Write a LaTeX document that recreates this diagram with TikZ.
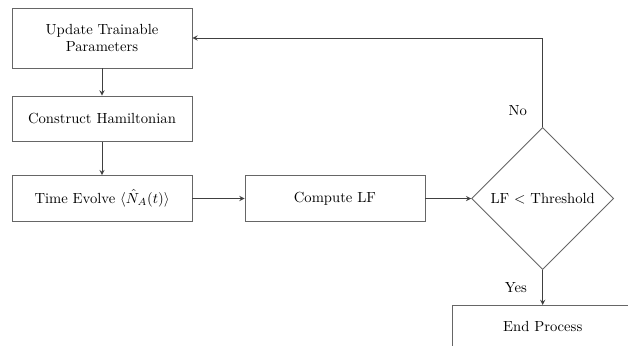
\documentclass[tikz,border=0pt]{standalone}
\usepackage{amsmath}
\usepackage{amssymb}
\usetikzlibrary{arrows,%
                positioning,%
                shapes.geometric}

\begin{document}
\begin{tikzpicture}
  \tikzstyle{every node} = [node distance = 0.7cm,
			    inner sep = 2]
\tikzset{StepBox/.style={draw = black!60, line width = 0.6pt, rectangle, align = center,
                         minimum width = 4.32cm, minimum height = 1.1cm}}
\tikzset{TestBox/.style={draw = black!60, line width = 0.6pt, diamond, inner sep = 0,
                         minimum width = 3.41cm, minimum height = 3.41cm}}
\tikzset{EdgeStyle/.style={->, >=stealth, line width = 0.6pt, draw = black!75}}
\useasboundingbox (0,0) rectangle (15.072,-8.28);

\node[StepBox, minimum height = 1.44cm] (B0) at (2.448,-0.912) {Update Trainable\\Parameters};
\node[StepBox, below = 0.65cm of B0] (B1) {Construct Hamiltonian};
\node[StepBox, below = 0.79cm of B1] (B2) {Time Evolve $\langle \hat{N}_A(t) \rangle$};
\node[StepBox, right = 1.25cm of B2] (B3) {Compute LF};
\node[TestBox, right = 1.1cm of B3] (T0) {LF $<$ Threshold};
\node[StepBox, minimum height = 1.0cm, below = 0.84cm of T0] (E0) {End Process};

\draw[EdgeStyle] (B0) -- (B1);
\draw[EdgeStyle] (B1) -- (B2);
\draw[EdgeStyle] (B2) -- (B3);
\draw[EdgeStyle] (B3) -- (T0);
\draw[EdgeStyle] (T0.north) |- node[pos = 0.09, left = 0.3cm] {No} (B0.east);
\draw[EdgeStyle] (T0.south) -- node[midway, left = 0.3cm] {Yes} (E0.north);

\end{tikzpicture}
\end{document}
